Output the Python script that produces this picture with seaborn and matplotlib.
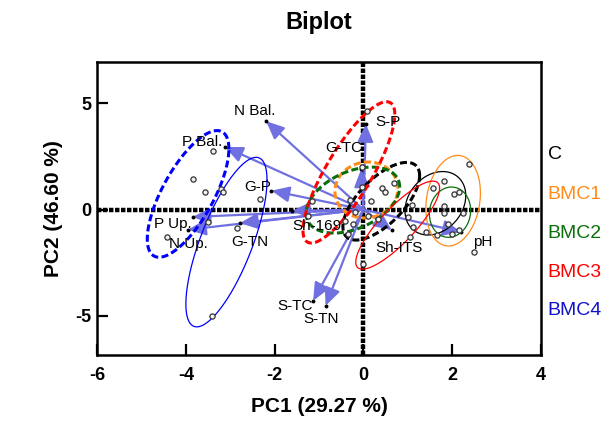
import numpy as np
import pandas as pd
import matplotlib
matplotlib.use("Agg")
import matplotlib.pyplot as plt
import seaborn as sns

# ---------------- data ----------------
score_x = [-3.39, -3.85, -3.57, -3.21, -3.17, -2.34, -3.51, -2.84, -4.43, -3.40,
           0.09, -0.04, -0.04, 0.69, 0.43, 0.49, -1.16, -0.30, 0.17, -1.24,
           0.11, 0.34, -0.19, -0.34, -0.24, 0.00, -0.41,
           2.39, 1.82, 1.58, 2.04, 2.16, 1.82, 1.09, 1.82, 2.25, 1.01,
           2.16, 1.99, 1.91, 1.66, 1.41, 1.12, 1.05, 2.49]
score_y = [2.75, 1.44, 0.81, 0.97, 0.84, 0.50, -0.60, -0.87, -1.28, -5.04,
           4.63, 1.99, 1.05, 1.25, 1.00, 0.84, 0.42, 0.45, 0.42, -0.29,
           -0.29, -0.45, -0.13, -1.16, -0.68, -2.57, -0.53,
           2.15, 1.33, 1.00, 0.73, 0.81, 0.15, 0.21, -0.18, -0.17, -0.37,
           -0.97, -1.16, -0.68, -1.20, -1.08, -0.84, -1.31, -2.02]

load_names = ["N Bal.", "P Bal.", "G-P", "P Up.", "N Up.", "G-TN", "Sh-169",
              "G-TC", "S-P", "S-TC", "S-TN", "Sh-ITS", "pH"]
load_x = [-2.19, -3.12, -2.07, -3.85, -3.95, -2.78, -1.61, -0.05, 0.06, -1.13, -0.85, 0.64, 2.20]
load_y = [4.16, 2.95, 0.89, -0.35, -0.95, -0.64, -0.06, 1.90, 4.03, -4.30, -4.54, -0.97, -1.06]

groups = ["C", "BMC1", "BMC2", "BMC3", "BMC4"]
# confidence ellipses (dashed): centre, spread along x / y, correlation
ci_cx = [0.405, 0.07, -0.235, -0.325, -3.95]
ci_cy = [0.39, 0.92, 0.445, 1.75, 0.735]
ci_sx = [0.865, 0.71, 1.055, 1.035, 0.92]
ci_sy = [1.83, 1.32, 1.555, 3.33, 2.985]
ci_rho = [0.66, 0.05, 0.40, 0.82, 0.71]
# data ellipses (thin solid)
de_cx = [1.625, 2.025, 1.955, 0.775, -3.085]
de_cy = [0.295, 0.415, -0.125, -0.735, -1.535]
de_sx = [0.685, 0.615, 0.465, 0.945, 0.915]
de_sy = [1.495, 2.135, 1.185, 2.075, 3.995]
de_rho = [0.24, 0.17, 0.07, 0.84, 0.73]

# ---------------- style ----------------
group_colors = ["#000000", "#FF8C1A", "#0A6E0A", "#FF0000", "#0000FF"]
legend_colors = ["#000000", "#FF8C1A", "#0A6E0A", "#FF0000", "#1010C8"]
arrow_color = "#7070E0"
label_off = [(-11, 10), (-23, 5), (-14, 4), (-20, -7), (0, -14), (10, -19), (25, -15),
             (-17, 21), (22, 2), (-18, -5), (-4, -13), (7, -18), (22, -10)]

sns.set_style("ticks")
plt.rcParams["font.family"] = ["Liberation Sans", "DejaVu Sans"]
plt.rcParams["axes.unicode_minus"] = False
plt.rcParams["text.color"] = "black"
plt.rcParams["axes.labelcolor"] = "black"
plt.rcParams["xtick.color"] = "black"
plt.rcParams["ytick.color"] = "black"

fig = plt.figure(figsize=(6.11, 4.25), dpi=100)
ax = fig.add_axes([0.159, 0.165, 0.726, 0.689])
ax.set_xlim(-6, 4)
ax.set_ylim(-6.85, 6.95)

# zero lines
ax.axhline(0, color="black", lw=3.2, ls=(0, (1, 0.35)), zorder=2)
ax.axvline(0, color="black", lw=3.2, ls=(0, (1, 0.35)), zorder=2)

t = np.linspace(0, 2 * np.pi, 300)


def ell(cx, cy, sx, sy, rho):
    x = cx + sx * np.cos(t)
    y = cy + sy * (rho * np.cos(t) + np.sqrt(1 - rho ** 2) * np.sin(t))
    return x, y


# loadings arrows
for name, lx, ly, off in zip(load_names, load_x, load_y, label_off):
    ax.annotate("", xy=(lx, ly), xytext=(0, 0),
                arrowprops=dict(arrowstyle="-|>,head_length=0.9,head_width=0.4",
                                color=arrow_color, lw=1.6, shrinkA=0, shrinkB=0,
                                mutation_scale=12), zorder=3)
    ax.plot([lx], [ly], "o", color="black", ms=1.8, zorder=4)
    ax.annotate(name, xy=(lx, ly), xytext=off, textcoords="offset pixels",
                ha="center", va="center", fontsize=11, color="black", zorder=6)

# ellipses
for i, g in enumerate(groups):
    x, y = ell(ci_cx[i], ci_cy[i], ci_sx[i], ci_sy[i], ci_rho[i])
    ax.plot(x, y, color=group_colors[i], lw=2.2, ls=(0, (2.3, 1.1)), zorder=4)
    x, y = ell(de_cx[i], de_cy[i], de_sx[i], de_sy[i], de_rho[i])
    ax.plot(x, y, color=group_colors[i], lw=0.9, zorder=4)

df = pd.DataFrame({"PC1": score_x, "PC2": score_y})
sns.scatterplot(data=df, x="PC1", y="PC2", ax=ax, s=14, facecolor="#f2f2f2",
                edgecolor="#333333", linewidth=0.9, zorder=5, legend=False)

# axes styling
for sp in ax.spines.values():
    sp.set_linewidth(1.8)
    sp.set_color("black")
ax.set_xticks([-6, -4, -2, 0, 2, 4])
ax.set_yticks([-5, 0, 5])
ax.tick_params(direction="in", length=8, width=1.6, labelsize=13)
ax.tick_params(axis="x", pad=9)
ax.tick_params(axis="y", pad=4)
for lab in ax.get_xticklabels() + ax.get_yticklabels():
    lab.set_fontweight("bold")
ax.set_xlabel("PC1 (29.27 %)", fontsize=15, fontweight="bold", labelpad=9)
ax.set_ylabel("PC2 (46.60 %)", fontsize=15, fontweight="bold", labelpad=9)
ax.set_title("Biplot", fontsize=17, fontweight="bold", pad=24)

# group legend as coloured text
leg_y = [0.683, 0.546, 0.416, 0.283, 0.150]
for g, c, yy in zip(groups, legend_colors, leg_y):
    ax.text(1.016, yy, g, transform=ax.transAxes, color=c, fontsize=14,
            ha="left", va="center")

fig.savefig("out.png", dpi=100)
